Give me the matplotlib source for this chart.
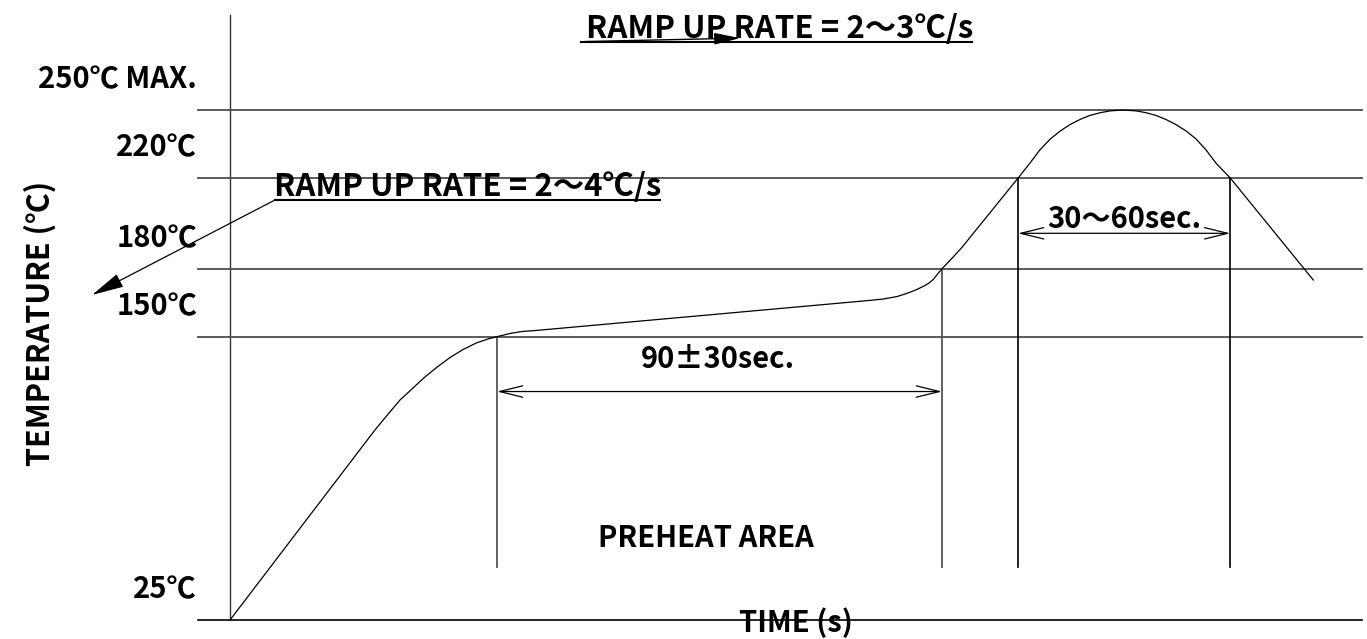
import matplotlib.pyplot as plt

plt.rcParams['font.family'] = ['Noto Sans CJK JP', 'DejaVu Sans']
plt.rcParams['font.weight'] = 'bold'

# reflow profile (time in s, temperature in degC)
profile_time = [0, 29.3, 32.0, 34.4, 36.8, 39.2, 41.9, 44.5, 47.1, 49.8, 52.2,
                54.0, 56.6, 59.1, 61.7,
                129.4, 132.1, 134.9, 136.5, 138.5, 140.6, 141.4, 142.2,
                144.0, 146.0, 148.0,
                159.4, 161.8, 163.8, 165.9, 167.9, 169.9, 171.9, 173.9, 176.0, 178.0,
                180.6, 183.3, 185.3, 187.3, 189.3, 191.3, 193.4, 195.4, 197.4, 199.4,
                202.3, 219.1]
profile_temp = [25, 108.8, 115.9, 122.1, 126.9, 131.8, 136.6, 140.8, 144.3, 147.2, 149.0,
                150, 151.4, 152.3, 152.7,
                166.0, 166.6, 167.7, 168.8, 170.4, 172.6, 173.7, 175.2,
                180, 184.5, 189.3,
                220, 226.6, 232.4, 237.2, 240.7, 243.6, 245.8, 247.6, 248.8, 249.6,
                250, 249.6, 248.8, 247.6, 245.8, 243.6, 240.7, 237.2, 232.4, 226.6,
                220, 175]

levels = [150, 180, 220, 250]
level_labels = ['150℃', '180℃', '220℃', '250℃ MAX.']
base_temp = 25
base_label = '25℃'

preheat = [54.0, 144.0]      # 150 -> 180 degC
reflow = [159.4, 202.3]      # above 220 degC
preheat_label = '90±30sec.'
reflow_label = '30～60sec.'

T_END = 229.0
T_LEFT = -6.5
GUIDE_BOTTOM = 48.4
FS = 21

fig = plt.figure(figsize=(13.67, 6.39), dpi=100)
ax = fig.add_axes([0, 0, 1, 1])
ax.set_xlim(-46.52, 229.96)
ax.set_ylim(16.62, 298.53)
ax.axis('off')

# axes
ax.plot([T_LEFT, T_END], [base_temp, base_temp], color='black', lw=1.2)
ax.plot([0, 0], [base_temp, 291.9], color='#333333', lw=1.0)

# temperature levels
for lv in levels:
    ax.plot([T_LEFT, T_END], [lv, lv], color='#4d4d4d', lw=1.3)

# level labels
for lv, lab in zip([base_temp] + levels, [base_label] + level_labels):
    ax.text(-6.7, lv + 9.5, lab, ha='right', va='baseline', fontsize=FS)

# zone guide lines
ax.plot([preheat[0]] * 2, [150, GUIDE_BOTTOM], color='#555555', lw=1.3)
ax.plot([preheat[1]] * 2, [180, GUIDE_BOTTOM], color='#555555', lw=1.3)
ax.plot([reflow[0]] * 2, [220, GUIDE_BOTTOM], color='black', lw=1.2)
ax.plot([reflow[1]] * 2, [220, GUIDE_BOTTOM], color='black', lw=1.2)

# profile curve
ax.plot(profile_time, profile_temp, color='black', lw=0.9)

# dimension arrows
dim = dict(arrowstyle='<->,head_length=1.66,head_width=0.41', mutation_scale=10,
           color='black', lw=0.9, shrinkA=0, shrinkB=0)
ax.annotate('', xy=(preheat[1], 125.8), xytext=(preheat[0], 125.8), arrowprops=dim)
ax.annotate('', xy=(reflow[1], 195.6), xytext=(reflow[0], 195.6), arrowprops=dim)
ax.text(98.7, 136.2, preheat_label, ha='center', va='baseline', fontsize=FS)
ax.text(180.8, 197.9, reflow_label, ha='center', va='baseline', fontsize=FS)

# ramp rate notes
ax.text(111.2, 281.8, 'RAMP UP RATE = 2～3℃/s', ha='center', va='baseline', fontsize=22.5)
ax.plot([70.9, 150.1], [279.9, 279.9], color='black', lw=1.5)
ax.annotate('', xy=(103.2, 281.7), xytext=(71.8, 280.2),
            arrowprops=dict(arrowstyle='-|>,head_length=1.6,head_width=0.36',
                            mutation_scale=10, color='black', lw=1.0,
                            shrinkA=0, shrinkB=0))

ax.text(48.1, 212.1, 'RAMP UP RATE = 2～4℃/s', ha='center', va='baseline', fontsize=22.5)
ax.plot([9.1, 87.0], [210.3, 210.3], color='black', lw=1.5)
ax.annotate('', xy=(-27.9, 168.4), xytext=(9.1, 210.3),
            arrowprops=dict(arrowstyle='-|>,head_length=2.0,head_width=0.45',
                            mutation_scale=10, color='black', lw=0.9,
                            shrinkA=0, shrinkB=0))

ax.text(96.3, 57.2, 'PREHEAT AREA', ha='center', va='baseline', fontsize=FS)
ax.text(114.5, 19.7, 'TIME (s)', ha='center', va='baseline', fontsize=FS)
ax.text(-38.4, 156, 'TEMPERATURE (℃)', ha='center', va='center', rotation=90,
        fontsize=FS + 1)

fig.savefig('out.png', dpi=100)
